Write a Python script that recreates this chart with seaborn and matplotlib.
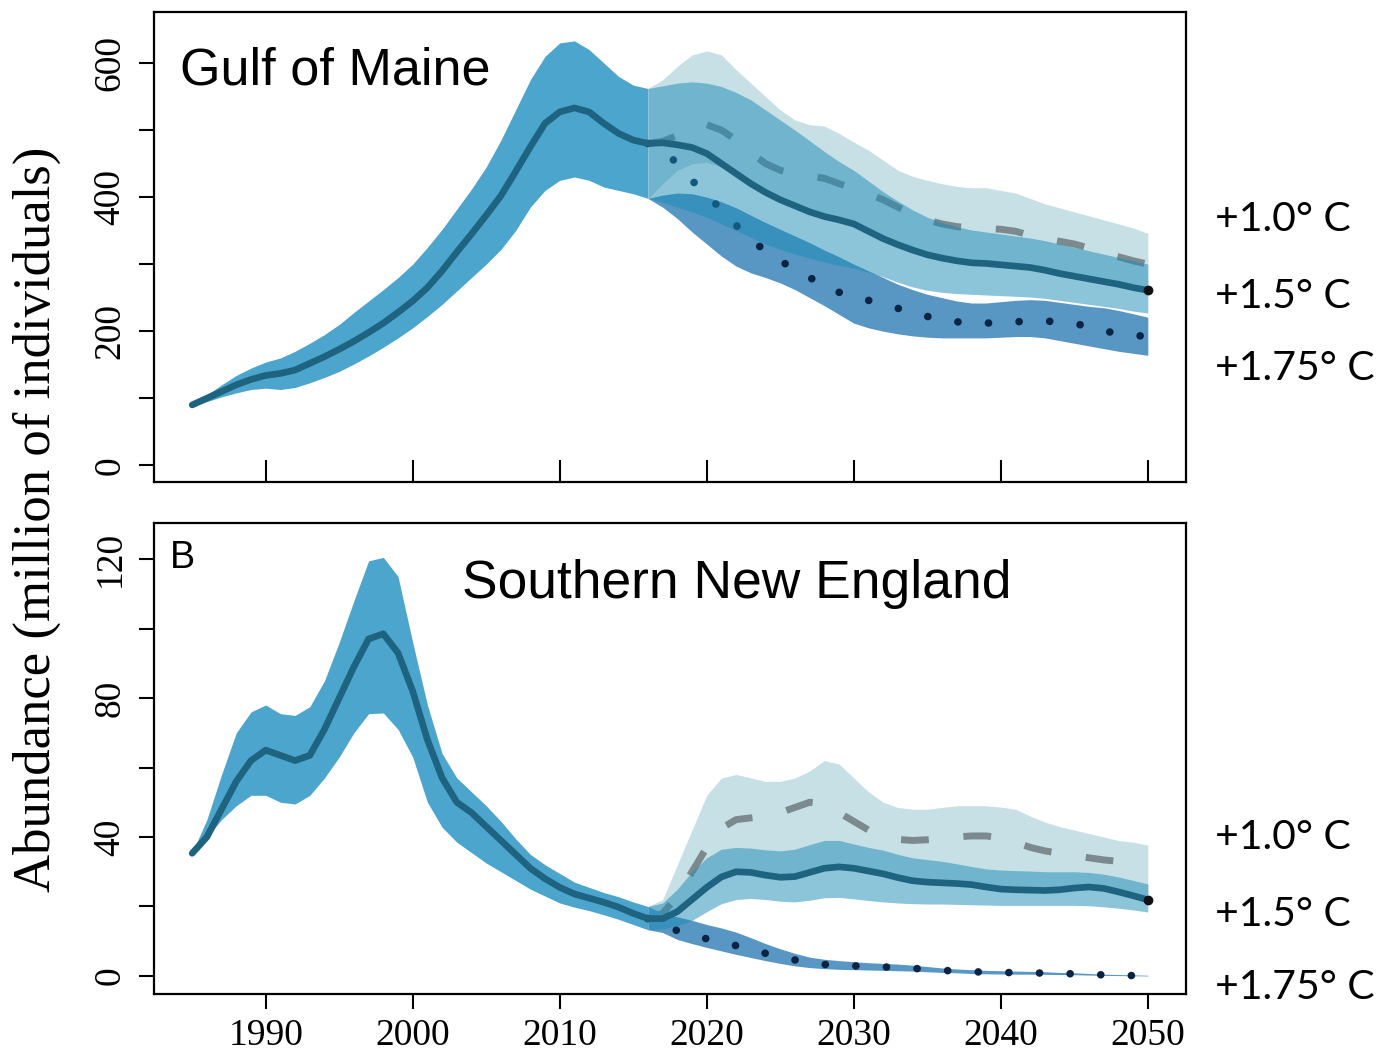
import numpy as np
import seaborn as sns
import matplotlib.pyplot as plt
from matplotlib.ticker import FixedLocator

# years
hist_years = np.arange(1985, 2017)
proj_years = np.arange(2016, 2051)
x_ticks = [1990, 2000, 2010, 2020, 2030, 2040, 2050]
scen_labels = ["+1.0° C", "+1.5° C", "+1.75° C"]

# Gulf of Maine (million of individuals)
gom_hist_mid = [90, 100, 110, 120, 128, 134, 137, 142, 152, 162, 173, 185, 198, 212, 228, 245,
                265, 290, 318, 345, 373, 402, 438, 475, 510, 527, 533, 527, 510, 495, 485, 480]
gom_hist_hi = [92, 105, 120, 134, 145, 154, 160, 170, 182, 195, 210, 228, 245, 262, 280, 300,
               325, 352, 382, 412, 445, 485, 530, 575, 610, 630, 633, 620, 600, 580, 567, 562]
gom_hist_lo = [88, 95, 102, 108, 113, 115, 113, 116, 123, 131, 140, 151, 163, 176, 190, 205,
               222, 240, 260, 280, 300, 322, 350, 385, 410, 425, 430, 425, 415, 410, 405, 398]

gom_15_mid = [480, 481, 478, 474, 465, 450, 435, 420, 407, 396, 387, 378, 371, 366, 360, 349, 338, 329,
              321, 314, 309, 305, 302, 301, 299, 297, 295, 291, 286, 282, 278, 274, 270, 265, 261]
gom_15_hi = [562, 566, 570, 572, 570, 565, 556, 545, 530, 515, 500, 484, 468, 453, 440, 424, 408, 394,
             381, 370, 362, 356, 351, 348, 345, 342, 339, 335, 330, 325, 320, 315, 310, 305, 300]
gom_15_lo = [398, 392, 385, 378, 370, 360, 350, 340, 330, 322, 315, 309, 303, 298, 294, 288, 281, 273,
             266, 261, 258, 256, 255, 254, 253, 252, 251, 249, 246, 243, 240, 237, 234, 230, 227]

gom_10_mid = [480, 483, 492, 503, 508, 500, 485, 466, 450, 440, 434, 431, 428, 420, 413, 405, 396, 385,
              374, 366, 360, 356, 354, 353, 352, 349, 343, 338, 334, 330, 324, 316, 311, 305, 300]
gom_10_hi = [562, 575, 595, 612, 618, 612, 590, 570, 550, 530, 515, 508, 506, 495, 482, 470, 455, 440,
             431, 425, 420, 416, 414, 414, 410, 406, 398, 390, 384, 378, 372, 366, 360, 354, 346]
gom_10_lo = [398, 420, 440, 450, 452, 445, 432, 418, 405, 394, 385, 376, 369, 363, 357, 346, 335, 326,
             318, 311, 306, 302, 299, 298, 296, 294, 292, 288, 283, 279, 275, 271, 267, 262, 258]

gom_175_mid = [480, 470, 450, 425, 402, 382, 358, 336, 320, 305, 292, 280, 268, 258, 252, 246, 240, 234,
               229, 222, 217, 214, 212, 212, 213, 214, 215, 215, 214, 212, 206, 200, 197, 194, 192]
gom_175_hi = [398, 403, 406, 405, 400, 393, 384, 373, 362, 352, 342, 332, 321, 311, 300, 290, 280, 270,
              262, 255, 250, 245, 242, 242, 244, 246, 247, 246, 243, 240, 237, 235, 231, 226, 221]
gom_175_lo = [398, 385, 368, 348, 330, 312, 297, 287, 280, 272, 262, 250, 238, 225, 212, 205, 200, 196,
              193, 191, 190, 190, 190, 190, 191, 192, 192, 190, 186, 182, 178, 174, 170, 167, 164]

# Southern New England
sne_hist_mid = [35.3, 40, 48, 56, 62, 65, 63.5, 62, 63.5, 71, 80, 89, 97, 98.5, 93, 82,
                68, 57, 50, 47, 43, 39, 35, 31, 28, 25.5, 23.6, 22.4, 21.2, 19.8, 18, 16.5]
sne_hist_hi = [35.5, 45, 58, 70, 76, 78, 75.5, 75, 77.5, 85, 96, 108, 119.5, 120.5, 115, 96,
               78, 64, 57, 53, 49, 44.5, 39.5, 35, 32, 29.5, 27, 25.5, 24, 22.8, 21.3, 20]
sne_hist_lo = [35, 40, 45, 49, 52, 52, 50, 49.5, 52, 57, 63, 70, 75.5, 75.7, 71, 63,
               50, 42.8, 38.5, 35.5, 32.5, 30, 27.5, 25, 23, 21, 19.8, 18.8, 17.6, 16.3, 14.8, 13.3]

sne_15_mid = [16.5, 16.5, 18.5, 22, 25.5, 28.5, 30, 29.8, 29, 28.4, 28.6, 29.8, 31, 31.4, 31, 30.2, 29.4,
              28.3, 27.4, 27, 26.8, 26.6, 26.3, 25.6, 25, 24.8, 24.7, 24.6, 24.8, 25.3, 25.6, 25.2, 24.2,
              23.1, 21.9]
sne_15_hi = [20, 21, 25, 30, 34, 36.5, 37, 36.8, 36.3, 36, 36.5, 37.8, 39, 39, 38, 37, 36.2, 35, 34,
             33.5, 33, 32.3, 31.5, 30.8, 30.5, 30.3, 30.2, 30, 30, 30, 29.8, 29.3, 28.5, 27.5, 26.5]
sne_15_lo = [13.3, 13.5, 14.5, 16, 18.5, 20.8, 22, 22.3, 22, 21.5, 21.3, 21.8, 22.5, 22.6, 22.2, 21.7,
             21.3, 21, 20.8, 20.7, 20.7, 20.6, 20.5, 20.4, 20.3, 20.3, 20.3, 20.3, 20.3, 20.3, 20.2,
             19.9, 19.5, 19, 18.4]

sne_10_mid = [16.5, 18, 23, 30, 37, 42.5, 45, 45.5, 46, 47, 48.5, 50, 49.5, 47, 44.5, 42, 40.2, 39.3,
              39, 39.2, 39.6, 40, 40.3, 40.3, 39.8, 38.5, 37, 36, 35.3, 34.6, 34, 33.4, 33, 32.8, 32.5]
sne_10_hi = [20, 22, 32, 42, 52, 57, 58, 57, 56, 56, 57, 59, 62, 61, 57, 53, 50, 48.5, 48, 48, 48.5,
             49, 49, 49, 48.6, 48, 46, 44.3, 43, 42, 41, 40, 39, 38.5, 37.7]
sne_10_lo = [13.3, 15, 18, 21.5, 25, 28, 29.5, 29.5, 29, 28.4, 28.6, 29.8, 31, 31.4, 31, 30.2, 29.4,
             28.3, 27.4, 27, 26.8, 26.6, 26.3, 25.6, 25, 24.8, 24.7, 24.6, 24.8, 25.3, 25.6, 25.2,
             24.2, 23.1, 21.9]

sne_175_mid = [16.5, 15, 13, 11.6, 10.7, 9.9, 8.7, 7.6, 6.5, 5.5, 4.6, 3.8, 3.3, 3.1, 2.9, 2.7, 2.6,
               2.4, 2.2, 1.9, 1.6, 1.4, 1.2, 1.1, 1.0, 0.95, 0.9, 0.8, 0.7, 0.6, 0.45, 0.3, 0.2, 0.1, 0.05]
sne_175_hi = [20, 18, 17, 16, 14.8, 13.8, 12.6, 11, 9.3, 7.8, 6.5, 5.4, 4.8, 4.4, 4.1, 3.8, 3.6, 3.4,
              3.1, 2.7, 2.3, 2.0, 1.8, 1.6, 1.5, 1.4, 1.3, 1.2, 1.0, 0.9, 0.7, 0.5, 0.4, 0.3, 0.2]
sne_175_lo = [13.3, 12.5, 10.5, 9.3, 8.2, 7.2, 6.2, 5.3, 4.4, 3.6, 2.9, 2.4, 2.1, 1.9, 1.8, 1.7, 1.6,
              1.5, 1.4, 1.2, 1.0, 0.9, 0.7, 0.6, 0.55, 0.5, 0.5, 0.45, 0.4, 0.35, 0.25, 0.15, 0.1,
              0.05, 0.0]

gom_yticks = [0, 100, 200, 300, 400, 500, 600]
gom_ylabels = ["0", "", "200", "", "400", "", "600"]
sne_yticks = [0, 20, 40, 60, 80, 100, 120]
sne_ylabels = ["0", "", "40", "", "80", "", "120"]

sns.set_style("ticks")
plt.rcParams["font.family"] = ["Liberation Serif", "DejaVu Serif"]
plt.rcParams["text.color"] = "black"
plt.rcParams["xtick.color"] = "black"
plt.rcParams["ytick.color"] = "black"

C_HIST = "#4ca5cd"
C_PALE = "#c7e0e6"
C_15 = "#1a8bb6"
C_175 = "#5896c4"
C_LINE = "#1e6380"
C_DASH = "#7c8a8e"
C_DOT = "#0b2443"
SANS = ["Liberation Sans", "DejaVu Sans"]
LAB_FONT = ["Lato", "DejaVu Sans"]


def draw_panel(ax, h_mid, h_hi, h_lo, m10, hi10, lo10, m15, hi15, lo15, m175, hi175, lo175):
    ax.fill_between(hist_years, h_lo, h_hi, color=C_HIST, lw=0, zorder=1)
    ax.fill_between(proj_years, lo10, hi10, color=C_PALE, lw=0, zorder=1)
    sns.lineplot(x=proj_years, y=m10, ax=ax, color=C_DASH, lw=5,
                 linestyle=(0, (4, 5)), zorder=2)
    ax.fill_between(proj_years, lo175, hi175, color=C_175, lw=0, zorder=3)
    sns.lineplot(x=proj_years, y=m175, ax=ax, color=C_DOT, lw=5.5,
                 linestyle=(0, (0.01, 4)), dash_capstyle="round", zorder=4)
    ax.fill_between(proj_years, lo15, hi15, color=C_15, alpha=0.5, lw=0, zorder=5)
    main_x = np.concatenate([hist_years, proj_years[1:]])
    main_y = np.concatenate([h_mid, m15[1:]])
    sns.lineplot(x=main_x, y=main_y, ax=ax, color=C_LINE, lw=4.8,
                 solid_capstyle="round", zorder=6)
    ax.plot(proj_years[-1], m15[-1], "o", color="#111111", ms=6, zorder=7)
    ax.set_xlim(1982.4, 2052.6)
    ax.set_xticks(x_ticks)
    ax.set_xlabel("")
    ax.set_ylabel("")
    for s in ax.spines.values():
        s.set_visible(True)
        s.set_linewidth(1.6)
        s.set_color("black")
    ax.tick_params(axis="y", direction="out", length=11, width=1.5, pad=8,
                   labelsize=27, colors="black")


fig = plt.figure(figsize=(13.82, 10.58), dpi=100)
ax1 = fig.add_axes([0.1114, 0.5444, 0.7468, 0.4442])
ax2 = fig.add_axes([0.1114, 0.0605, 0.7468, 0.4452])

draw_panel(ax1, gom_hist_mid, gom_hist_hi, gom_hist_lo, gom_10_mid, gom_10_hi, gom_10_lo,
           gom_15_mid, gom_15_hi, gom_15_lo, gom_175_mid, gom_175_hi, gom_175_lo)
draw_panel(ax2, sne_hist_mid, sne_hist_hi, sne_hist_lo, sne_10_mid, sne_10_hi, sne_10_lo,
           sne_15_mid, sne_15_hi, sne_15_lo, sne_175_mid, sne_175_hi, sne_175_lo)

ax1.set_ylim(-25, 676)
ax1.yaxis.set_major_locator(FixedLocator(gom_yticks))
ax1.set_yticklabels(gom_ylabels, rotation=90, va="center")
ax1.tick_params(axis="x", direction="in", length=16, width=1.5, labelbottom=False)

ax2.set_ylim(-5.2, 130.4)
ax2.yaxis.set_major_locator(FixedLocator(sne_yticks))
ax2.set_yticklabels(sne_ylabels, rotation=90, va="center")
ax2.tick_params(axis="x", direction="out", length=11, width=1.5, pad=7, labelsize=27,
                colors="black")

# panel titles
fig.text(0.1302, 0.9330, "Gulf of Maine", ha="left", va="center", fontsize=37.5, family=SANS)
fig.text(0.3343, 0.4480, "Southern New England", ha="left", va="center", fontsize=38.4, family=SANS)
fig.text(0.1230, 0.4725, "B", ha="left", va="center", fontsize=27, family=SANS)

# scenario labels at right
for lab, yy in zip(scen_labels, [0.7928, 0.7200, 0.6520]):
    fig.text(0.8792, yy, lab, ha="left", va="center", fontsize=29.5, family=LAB_FONT)
for lab, yy in zip(scen_labels, [0.2087, 0.1359, 0.0669]):
    fig.text(0.8792, yy, lab, ha="left", va="center", fontsize=29.5, family=LAB_FONT)

fig.text(0.027, 0.509, "Abundance (million of individuals)", rotation=90,
         ha="center", va="center", fontsize=38)

fig.savefig("out.png", dpi=100)
plt.close(fig)
